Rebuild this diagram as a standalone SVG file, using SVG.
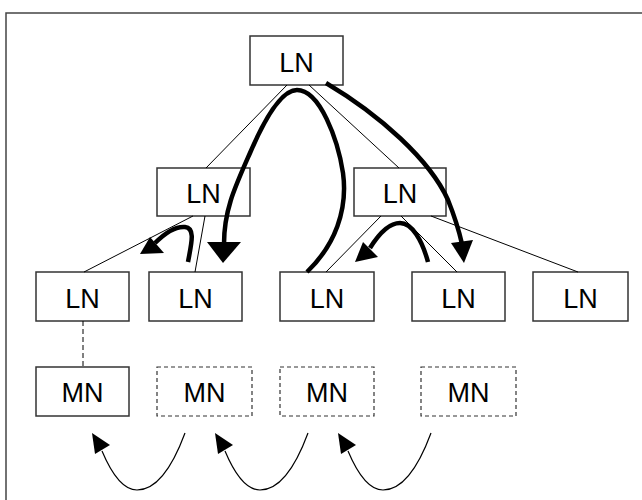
<svg xmlns="http://www.w3.org/2000/svg" width="642" height="500" viewBox="0 0 642 500">
<style>
.box{fill:#fff;stroke:#333;stroke-width:1.5}
.dbox{fill:#fff;stroke:#333;stroke-width:1.2;stroke-dasharray:4 3}
.t{font-family:"Liberation Sans",Arial,sans-serif;font-size:27px;fill:#000;text-anchor:middle}
.thin{fill:none;stroke:#000;stroke-width:1}
.thick{fill:none;stroke:#000;stroke-width:4.5;stroke-linecap:butt}
.curve{fill:none;stroke:#000;stroke-width:1.2}
.head{fill:#000;stroke:none}
</style>
<rect x="0" y="0" width="642" height="500" fill="#fff"/>
<rect x="6" y="13" width="700" height="600" fill="none" stroke="#444" stroke-width="1.5"/>
<g id="ln-root"><rect class="box" x="250" y="36" width="93" height="49"/><text class="t" x="296.5" y="72">LN</text></g>
<g id="ln-mid-left"><rect class="box" x="157" y="168" width="93" height="48"/><text class="t" x="203.5" y="203">LN</text></g>
<g id="ln-mid-right"><rect class="box" x="354" y="168" width="92" height="48"/><text class="t" x="400" y="203">LN</text></g>
<g id="ln-1"><rect class="box" x="36" y="272" width="93" height="49"/><text class="t" x="82.5" y="308">LN</text></g>
<g id="ln-2"><rect class="box" x="149" y="272" width="93" height="49"/><text class="t" x="195.5" y="308">LN</text></g>
<g id="ln-3"><rect class="box" x="280" y="272" width="94" height="49"/><text class="t" x="327" y="308">LN</text></g>
<g id="ln-4"><rect class="box" x="412" y="272" width="93" height="49"/><text class="t" x="458.5" y="308">LN</text></g>
<g id="ln-5"><rect class="box" x="533" y="272" width="95" height="49"/><text class="t" x="580.5" y="308">LN</text></g>
<g id="mn-1"><rect class="box" x="36" y="367" width="93" height="49"/><text class="t" x="82.5" y="402">MN</text></g>
<g id="mn-2"><rect class="dbox" x="157" y="367" width="95" height="49"/><text class="t" x="204.5" y="402">MN</text></g>
<g id="mn-3"><rect class="dbox" x="280" y="367" width="94" height="49"/><text class="t" x="327" y="402">MN</text></g>
<g id="mn-4"><rect class="dbox" x="421" y="367" width="95" height="49"/><text class="t" x="468.5" y="402">MN</text></g>
<g id="connectors">
<line class="thin" x1="287" y1="85" x2="206" y2="168"/>
<line class="thin" x1="309" y1="85" x2="399" y2="168"/>
<line class="thin" x1="193" y1="216" x2="84" y2="272"/>
<line class="thin" x1="205" y1="216" x2="195" y2="272"/>
<line class="thin" x1="381" y1="216" x2="326" y2="272"/>
<line class="thin" x1="401" y1="216" x2="457" y2="272"/>
<line class="thin" x1="431" y1="216" x2="578" y2="272"/>
<line class="thin" x1="83" y1="321" x2="83" y2="367" stroke-dasharray="5 3"/>
<path class="thick" d="M307,272 C335,245 348,210 343,173 C338,140 320,90 297,90 C280,90 262,125 250,153 C235,187 224,210 224,244"/>
<polygon class="head" points="207,242 241,242 223,263"/>
<path class="thick" d="M326,83 C380,115 430,160 448,200 C456,220 460,235 462,244"/>
<polygon class="head" points="451,243 473,240 464,263"/>
<path class="thick" d="M188,262 C191,245 196,228 185,227 C175,226 163,235 155,243"/>
<polygon class="head" points="140,254 150,237 164,253"/>
<path class="thick" d="M428,262 C422,240 412,223 400,223 C390,223 380,232 370,248"/>
<polygon class="head" points="355,262 363,242 378,257"/>
<g id="mn-curve">
<path class="curve" d="M185,433 C175,460 160,490 137,490 C122,490 110,470 102,451"/>
<polygon class="head" points="92,433 110,445 95,454"/>
</g>
<use href="#mn-curve" transform="translate(123,0)"/>
<use href="#mn-curve" transform="translate(246,0)"/>
</g>
</svg>
